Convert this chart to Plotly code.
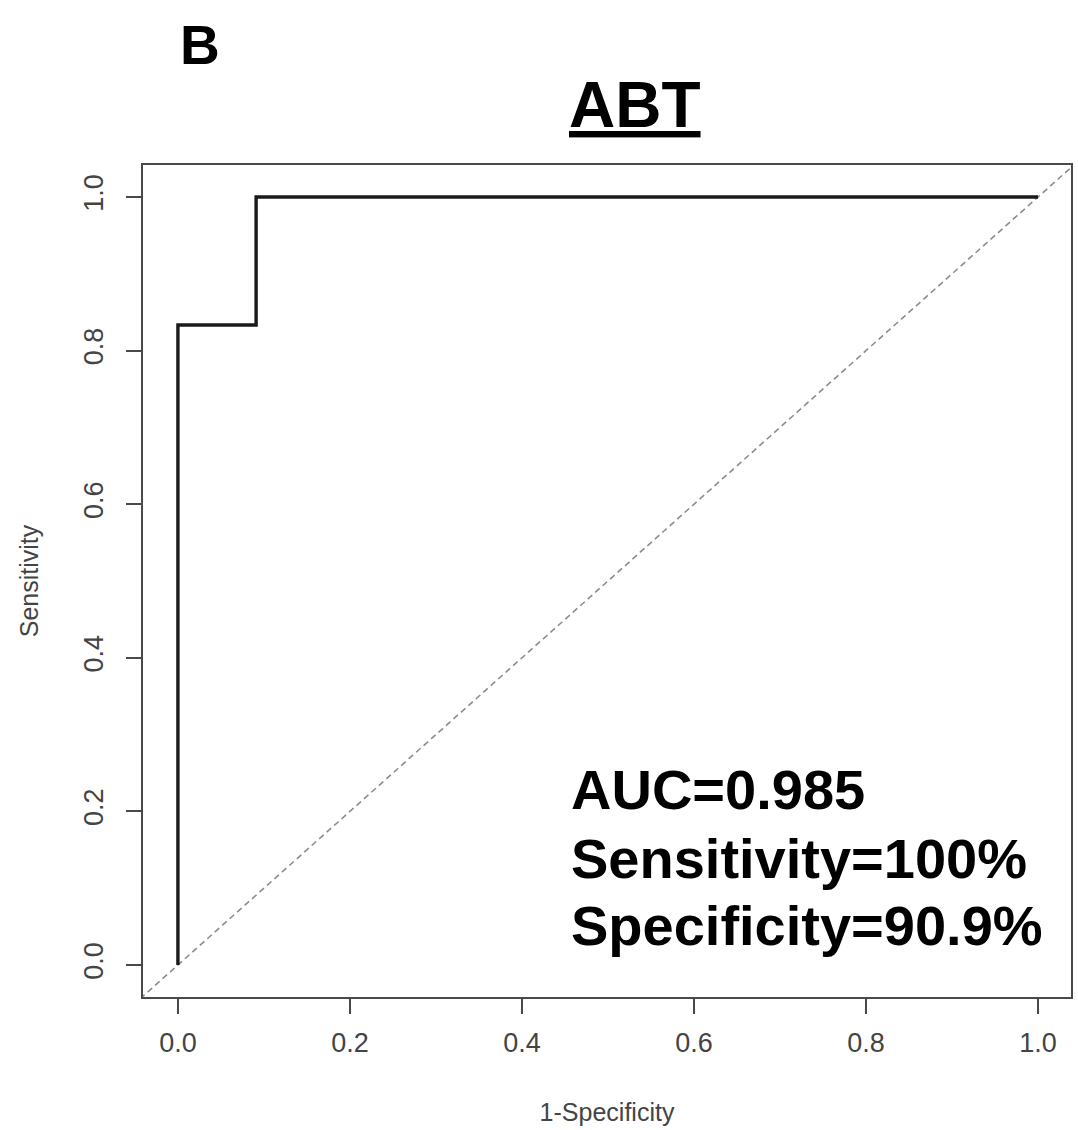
import plotly.graph_objects as go

# ROC curve data (1-Specificity, Sensitivity)
fpr = [0.0, 0.0, 0.0909, 0.0909, 1.0]
tpr = [0.0, 0.8333, 0.8333, 1.0, 1.0]

# reference diagonal (abline 0,1)
diag_x = [-0.2, 1.2]
diag_y = [-0.2, 1.2]

tick_vals = [0.0, 0.2, 0.4, 0.6, 0.8, 1.0]
tick_text = ["0.0", "0.2", "0.4", "0.6", "0.8", "1.0"]

stats_lines = ["AUC=0.985", "Sensitivity=100%", "Specificity=90.9%"]
stats_y = [0.228, 0.139, 0.052]

FONT = "Liberation Sans, Arial, Helvetica, sans-serif"
AX = "#4a4a4a"

W, H = 1078, 1130
ML, MR, MT, MB = 143, 5, 165, 133

fig = go.Figure()
fig.add_trace(go.Scatter(x=diag_x, y=diag_y, mode="lines",
                         line=dict(color="#8c8c8c", width=1.6, dash="6px,4px"),
                         hoverinfo="skip", showlegend=False))
fig.add_trace(go.Scatter(x=fpr, y=tpr, mode="lines",
                         line=dict(color="#1a1a1a", width=3.4),
                         showlegend=False))

axis_common = dict(
    tickvals=tick_vals, ticktext=tick_text,
    ticks="outside", ticklen=15, tickwidth=1.5, tickcolor=AX,
    showline=True, mirror=True, linecolor=AX, linewidth=1.6,
    showgrid=False, zeroline=False,
    tickfont=dict(family=FONT, size=27, color="#444444"),
)

fig.update_layout(
    width=W, height=H,
    margin=dict(l=ML, r=MR, t=MT, b=MB),
    paper_bgcolor="white", plot_bgcolor="white",
    xaxis=dict(range=[-0.0406, 1.0383],
               title=dict(text="1-Specificity", font=dict(family=FONT, size=25, color="#444444"), standoff=46),
               ticklabelstandoff=6,
               **axis_common),
    yaxis=dict(range=[-0.0417, 1.0417], tickangle=-90,
               title=dict(text="Sensitivity", font=dict(family=FONT, size=25, color="#444444"), standoff=34),
               ticklabelstandoff=12,
               **axis_common),
)

for txt, yy in zip(stats_lines, stats_y):
    fig.add_annotation(x=0.455, y=yy, xref="x", yref="y", text="<b>" + txt + "</b>",
                       showarrow=False, xanchor="left", yanchor="middle",
                       font=dict(family=FONT, size=56, color="black"))

pw = W - ML - MR
ph = H - MT - MB

def px_to_paper(px, py):
    return (px - ML) / pw, (H - MB - py) / ph

bx, by = px_to_paper(200, 45)
fig.add_annotation(x=bx, y=by, xref="paper", yref="paper", text="<b>B</b>",
                   showarrow=False, xanchor="center", yanchor="middle",
                   font=dict(family=FONT, size=55, color="black"))
tx, ty = px_to_paper(636, 105)
fig.add_annotation(x=tx, y=ty, xref="paper", yref="paper", text="<b><u>ABT</u></b>",
                   showarrow=False, xanchor="center", yanchor="middle",
                   font=dict(family=FONT, size=64, color="black"))

fig.write_html("out.html",
               config={"displayModeBar": False},
               post_script="document.body.style.margin='0';document.body.style.overflow='hidden';")
